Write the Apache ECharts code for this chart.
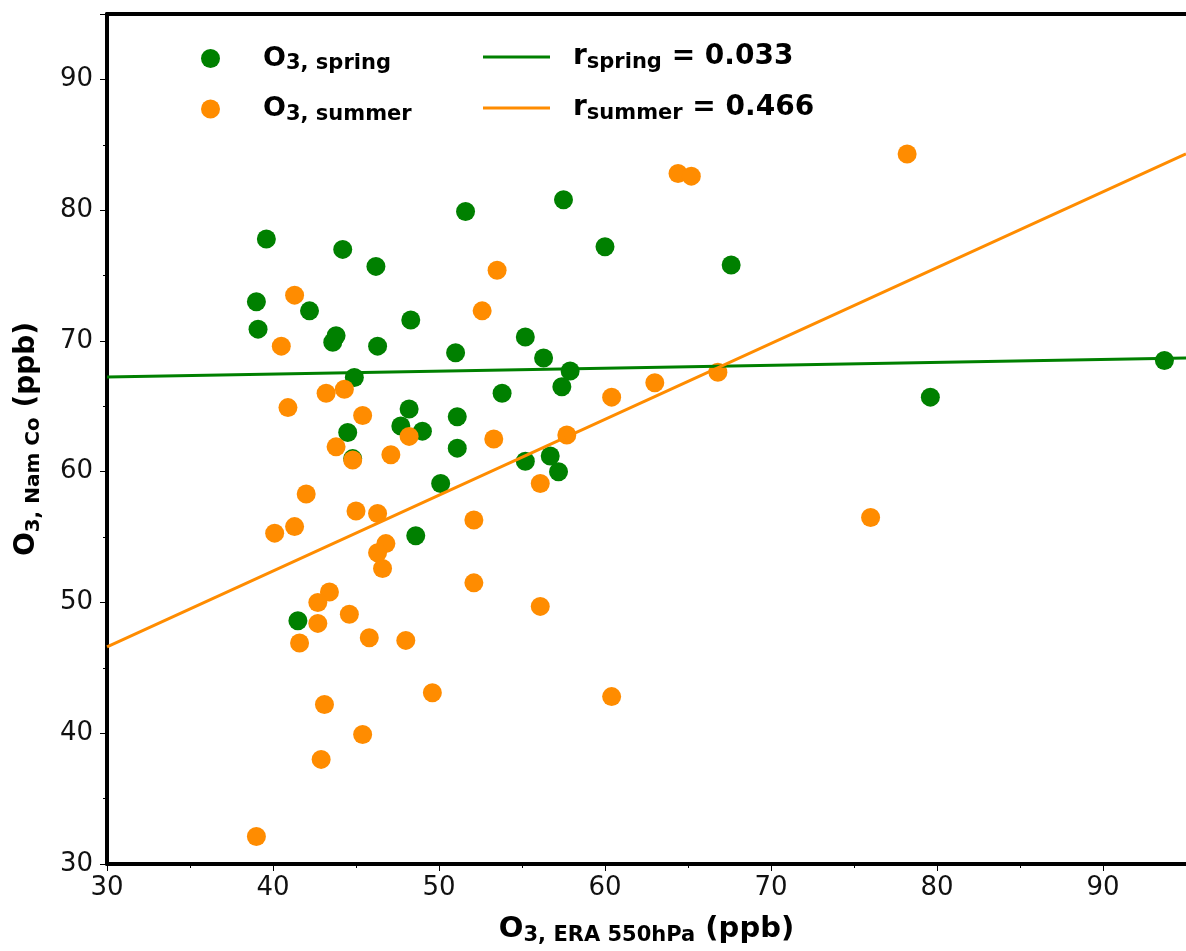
<!DOCTYPE html>
<html>
<head>
    <meta charset="utf-8">
    <title>O3 Nam Co vs ERA</title>
    <style>
        html, body { margin: 0; padding: 0; background: #fff; }
        #chart { width: 1186px; height: 951px; }
    </style>
</head>
<body>
    <div id="chart"></div>
    <script src="https://cdn.jsdelivr.net/npm/echarts@6/dist/echarts.min.js"></script>
    <script>
        // points: [O3 ERA 550hPa, O3 Nam Co]
        var springPoints = [
            [39.6, 77.8], [39.0, 73.0], [39.1, 70.9], [42.2, 72.3], [44.2, 77.0], [46.2, 75.7],
            [43.6, 69.9], [43.8, 70.4], [46.3, 69.6], [44.9, 67.2], [44.5, 63.0], [44.8, 61.0],
            [48.2, 64.8], [47.7, 63.5], [49.0, 63.1], [48.3, 71.6], [51.0, 69.1], [51.6, 79.9],
            [51.1, 64.2], [51.1, 61.8], [50.1, 59.1], [48.6, 55.1], [41.5, 48.6], [55.2, 70.3],
            [56.3, 68.7], [53.8, 66.0], [55.2, 60.8], [56.7, 61.2], [57.2, 60.0], [57.4, 66.5],
            [57.9, 67.7], [57.5, 80.8], [60.0, 77.2], [67.6, 75.8], [79.6, 65.7], [93.7, 68.5]
        ];
        var summerPoints = [
            [53.5, 75.4], [41.3, 73.5], [40.5, 69.6], [52.6, 72.3], [43.2, 66.0], [44.3, 66.3],
            [40.9, 64.9], [45.4, 64.3], [60.4, 65.7], [48.2, 62.7], [43.8, 61.9], [44.8, 60.9],
            [47.1, 61.3], [53.3, 62.5], [57.7, 62.8], [56.1, 59.1], [42.0, 58.3], [45.0, 57.0],
            [46.3, 56.8], [52.1, 56.3], [40.1, 55.3], [41.3, 55.8], [46.8, 54.5], [46.3, 53.8],
            [46.6, 52.6], [52.1, 51.5], [43.4, 50.8], [42.7, 50.0], [42.7, 48.4], [44.6, 49.1],
            [56.1, 49.7], [41.6, 46.9], [45.8, 47.3], [48.0, 47.1], [49.6, 43.1], [60.4, 42.8],
            [43.1, 42.2], [45.4, 39.9], [42.9, 38.0], [39.0, 32.1], [64.4, 82.8], [65.2, 82.6],
            [78.2, 84.3], [66.8, 67.6], [63.0, 66.8], [76.0, 56.5]
        ];
        // regression lines, end points
        var springFit = [[30, 67.25], [95, 68.7]];
        var summerFit = [[30, 46.6], [95, 84.3]];

        var greenColor = '#008000';
        var orangeColor = '#ff8c00';
        var font = 'DejaVu Sans';

        var legendText = {
            'O3 spring': '{g| }{b|O}{s|3, spring}',
            'O3 summer': '{g| }{b|O}{s|3, summer}',
            'r spring': '{g| }{b|r}{s|spring}{b| = 0.033}',
            'r summer': '{g| }{b|r}{s|summer}{b| = 0.466}'
        };

        function richStyle(big, small, gap) {
            return {
                g: { width: gap },
                b: { fontSize: big, fontWeight: 'bold', fontFamily: font, color: '#000', lineHeight: 32 },
                s: { fontSize: small, fontWeight: 'bold', fontFamily: font, color: '#000', lineHeight: 19, verticalAlign: 'bottom' }
            };
        }

        var chart = echarts.init(document.getElementById('chart'));

        var option = {
            animation: false,
            backgroundColor: '#fff',
            grid: { left: 107, right: -6, top: 14, bottom: 87 },
            legend: [{
                data: ['O3 spring', 'O3 summer'],
                orient: 'vertical',
                left: 196,
                top: 40,
                icon: 'circle',
                itemWidth: 19,
                itemHeight: 19,
                itemGap: 21,
                formatter: function (name) { return legendText[name]; },
                textStyle: { rich: richStyle(27, 21, 38) }
            }, {
                data: ['r spring', 'r summer'],
                orient: 'vertical',
                left: 478,
                top: 38,
                icon: 'rect',
                itemWidth: 67,
                itemHeight: 3,
                itemGap: 21,
                formatter: function (name) { return legendText[name]; },
                textStyle: { rich: richStyle(28, 21, 18) }
            }],
            xAxis: [{
                type: 'value',
                min: 30,
                max: 95,
                interval: 10,
                position: 'bottom',
                name: '{b|O}{s|3, ERA 550hPa}{b| (ppb)}',
                nameLocation: 'middle',
                nameGap: 48,
                nameTextStyle: {
                    rich: {
                        b: { fontSize: 29, fontWeight: 'bold', fontFamily: font, color: '#000', lineHeight: 34 },
                        s: { fontSize: 21, fontWeight: 'bold', fontFamily: font, color: '#000', lineHeight: 22, verticalAlign: 'bottom' }
                    }
                },
                axisLine: { show: true, onZero: false, lineStyle: { color: '#000', width: 4 } },
                axisTick: { show: true, length: 7, lineStyle: { color: '#000', width: 1 } },
                minorTick: { show: true, splitNumber: 2, length: 4, lineStyle: { color: '#000', width: 1 } },
                splitLine: { show: false },
                axisLabel: { fontSize: 26, fontFamily: font, color: '#111', margin: 11, showMaxLabel: false }
            }, {
                type: 'value',
                min: 30,
                max: 95,
                position: 'top',
                axisLine: { show: true, onZero: false, lineStyle: { color: '#000', width: 4 } },
                axisTick: { show: false },
                axisLabel: { show: false },
                splitLine: { show: false }
            }],
            yAxis: {
                type: 'value',
                min: 30,
                max: 95,
                interval: 10,
                name: '{b|O}{s|3, Nam Co}{b| (ppb)}',
                nameLocation: 'middle',
                nameGap: 63,
                nameTextStyle: {
                    rich: {
                        b: { fontSize: 28, fontWeight: 'bold', fontFamily: font, color: '#000', lineHeight: 34 },
                        s: { fontSize: 20, fontWeight: 'bold', fontFamily: font, color: '#000', lineHeight: 22, verticalAlign: 'bottom' }
                    }
                },
                axisLine: { show: true, onZero: false, lineStyle: { color: '#000', width: 4 } },
                axisTick: { show: true, length: 7, lineStyle: { color: '#000', width: 1 } },
                minorTick: { show: true, splitNumber: 2, length: 4, lineStyle: { color: '#000', width: 1 } },
                splitLine: { show: false },
                axisLabel: { fontSize: 26, fontFamily: font, color: '#111', margin: 14, showMaxLabel: false }
            },
            series: [{
                name: 'O3 spring',
                type: 'scatter',
                symbolSize: 19,
                itemStyle: { color: greenColor, opacity: 1 },
                data: springPoints,
                z: 2
            }, {
                name: 'O3 summer',
                type: 'scatter',
                symbolSize: 19,
                itemStyle: { color: orangeColor, opacity: 1 },
                data: summerPoints,
                z: 2
            }, {
                name: 'r spring',
                type: 'line',
                showSymbol: false,
                itemStyle: { color: greenColor },
                lineStyle: { color: greenColor, width: 3 },
                data: springFit,
                z: 3
            }, {
                name: 'r summer',
                type: 'line',
                showSymbol: false,
                itemStyle: { color: orangeColor },
                lineStyle: { color: orangeColor, width: 3 },
                data: summerFit,
                z: 3
            }]
        };

        chart.setOption(option);
        window.addEventListener('resize', function () {
            chart.resize();
        });
    </script>
</body>
</html>
